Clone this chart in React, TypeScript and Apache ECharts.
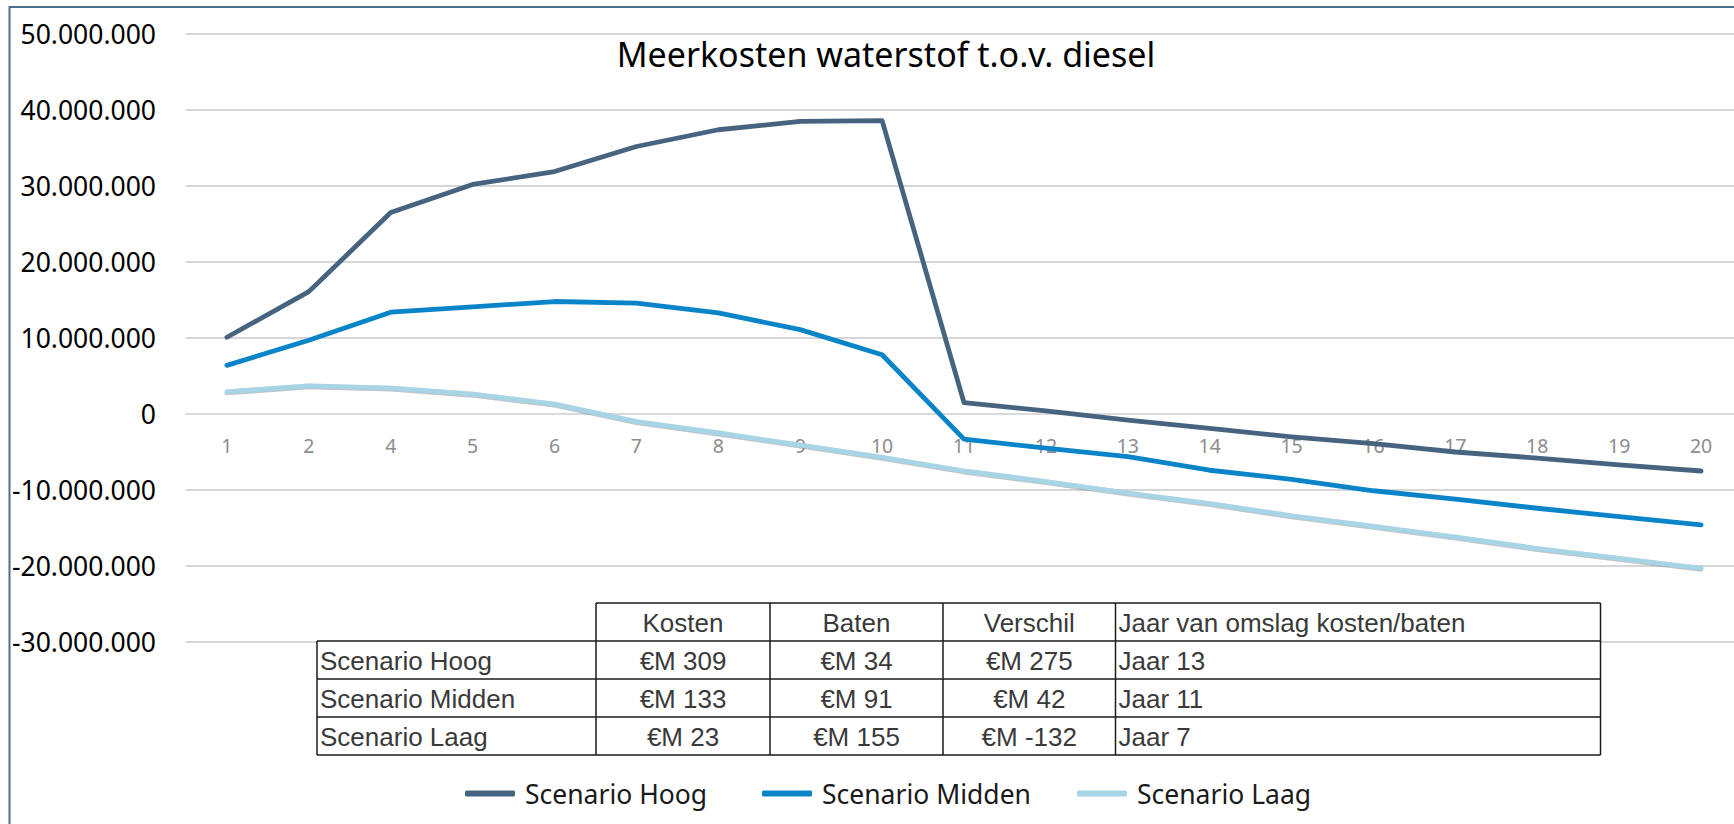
import React, { useEffect, useRef } from 'react';
import * as echarts from 'echarts';

const categories = ['1', '2', '4', '5', '6', '7', '8', '9', '10', '11', '12', '13', '14', '15', '16', '17', '18', '19', '20'];

const scenarioHoog = [10100000, 16100000, 26500000, 30200000, 31900000, 35200000, 37400000, 38500000, 38600000, 1500000, 400000, -800000, -1900000, -3000000, -3900000, -5000000, -5800000, -6700000, -7500000];
const scenarioMidden = [6400000, 9700000, 13400000, 14100000, 14800000, 14600000, 13300000, 11100000, 7800000, -3300000, -4500000, -5600000, -7400000, -8600000, -10100000, -11200000, -12400000, -13500000, -14600000];
const scenarioLaag = [2900000, 3700000, 3400000, 2600000, 1300000, -1000000, -2500000, -4100000, -5700000, -7500000, -8900000, -10400000, -11800000, -13400000, -14800000, -16200000, -17700000, -19000000, -20300000];

const seriesNames = ['Scenario Hoog', 'Scenario Midden', 'Scenario Laag'];

const tableHeader = ['Kosten', 'Baten', 'Verschil', 'Jaar van omslag kosten/baten'];
const tableRowLabels = ['Scenario Hoog', 'Scenario Midden', 'Scenario Laag'];
const tableKosten = ['€M 309', '€M 133', '€M 23'];
const tableBaten = ['€M 34', '€M 91', '€M 155'];
const tableVerschil = ['€M 275', '€M 42', '€M -132'];
const tableOmslag = ['Jaar 13', 'Jaar 11', 'Jaar 7'];

const TITLE = 'Meerkosten waterstof t.o.v. diesel';

const Y_MIN = -30000000;
const Y_MAX = 50000000;

function fmt(v: number): string {
  const neg = v < 0;
  const s = Math.abs(v).toFixed(0).replace(/\B(?=(\d{3})+(?!\d))/g, '.');
  return (neg ? '-' : '') + s;
}

function buildTable(): any[] {
  const colX = [317, 596, 770, 943, 1115.5, 1600.5];
  const rowY = [603, 641, 679, 717, 755];
  const els: any[] = [];
  const lineStyle = { stroke: '#1a1a1a', lineWidth: 1.5 };
  const font = '26px "Liberation Sans", Arial, sans-serif';
  const textColor = '#3a3a3a';
  els.push({ type: 'rect', shape: { x: colX[1], y: rowY[0], width: colX[5] - colX[1], height: rowY[1] - rowY[0] }, style: { fill: '#fff' }, z: 10 });
  els.push({ type: 'rect', shape: { x: colX[0], y: rowY[1], width: colX[5] - colX[0], height: rowY[4] - rowY[1] }, style: { fill: '#fff' }, z: 10 });
  els.push({ type: 'line', shape: { x1: colX[1], y1: rowY[0], x2: colX[5], y2: rowY[0] }, style: lineStyle, z: 11 });
  for (let r = 1; r < rowY.length; r++) {
    els.push({ type: 'line', shape: { x1: colX[0], y1: rowY[r], x2: colX[5], y2: rowY[r] }, style: lineStyle, z: 11 });
  }
  els.push({ type: 'line', shape: { x1: colX[0], y1: rowY[1], x2: colX[0], y2: rowY[4] }, style: lineStyle, z: 11 });
  for (let c = 1; c < colX.length; c++) {
    els.push({ type: 'line', shape: { x1: colX[c], y1: rowY[0], x2: colX[c], y2: rowY[4] }, style: lineStyle, z: 11 });
  }
  const cellText = (text: string, col: number, row: number, align: 'left' | 'center') => {
    const x = align === 'center' ? (colX[col] + colX[col + 1]) / 2 : colX[col] + 3;
    const y = (rowY[row] + rowY[row + 1]) / 2 + 1;
    els.push({ type: 'text', x, y, z: 12, style: { text, font, fill: textColor, align, verticalAlign: 'middle' } });
  };
  tableHeader.forEach((h, i) => cellText(h, i + 1, 0, i === 3 ? 'left' : 'center'));
  tableRowLabels.forEach((label, r) => {
    cellText(label, 0, r + 1, 'left');
    cellText(tableKosten[r], 1, r + 1, 'center');
    cellText(tableBaten[r], 2, r + 1, 'center');
    cellText(tableVerschil[r], 3, r + 1, 'center');
    cellText(tableOmslag[r], 4, r + 1, 'left');
  });
  return els;
}

export default function App() {
  const ref = useRef<HTMLDivElement>(null);

  useEffect(() => {
    document.body.style.margin = '0';
    if (!ref.current) return;
    const chart = echarts.init(ref.current, undefined, { renderer: 'svg' });
    const colors = ['#46647f', '#0a84c8', '#a8d5e6'];
    const datasets = [scenarioHoog, scenarioMidden, scenarioLaag];
    const legendLeft = [460, 757, 1072];
    const gridTop = 34;
    const gridHeight = 608;
    // move the category axis up to the zero line of the value axis
    const zeroOffset = -(gridHeight * (0 - Y_MIN)) / (Y_MAX - Y_MIN);

    const option: any = {
      animation: false,
      backgroundColor: '#ffffff',
      grid: { left: 186, top: gridTop, width: 1556, height: gridHeight, containLabel: false, outerBoundsMode: 'none' },
      xAxis: {
        type: 'category',
        data: categories,
        boundaryGap: true,
        position: 'bottom',
        offset: zeroOffset,
        axisLine: { onZero: false, lineStyle: { color: '#dadada', width: 2 } },
        axisTick: { show: false },
        axisLabel: { color: '#8c8c8c', fontSize: 19.5, fontFamily: '"Noto Sans", sans-serif', margin: 21 },
        splitLine: { show: false },
      },
      yAxis: {
        type: 'value',
        min: Y_MIN,
        max: Y_MAX,
        interval: 10000000,
        axisLine: { show: false },
        axisTick: { show: false },
        axisLabel: { formatter: fmt, color: '#000000', fontSize: 26.5, fontFamily: '"Noto Sans", sans-serif', margin: 30 },
        splitLine: { lineStyle: { color: '#c8c8c8', width: 1.5 } },
      },
      legend: seriesNames.map((n, i) => ({
        data: [n],
        left: legendLeft[i],
        top: 775,
        icon: 'roundRect',
        itemWidth: 50,
        itemHeight: 6,
        textStyle: { fontSize: 26.5, color: '#1a1a1a', fontFamily: '"Noto Sans", sans-serif', padding: [0, 0, 0, 5] },
        selectedMode: false,
      })),
      series: seriesNames.map((n, i) => ({
        name: n,
        type: 'line',
        data: datasets[i],
        symbol: 'none',
        z: 3 + i,
        itemStyle: { color: colors[i] },
        lineStyle: {
          color: colors[i],
          width: 4.8,
          cap: 'round',
          join: 'round',
          ...(i === 2 ? { shadowColor: 'rgba(90,90,90,0.6)', shadowBlur: 1.5, shadowOffsetY: 0.6 } : {}),
        },
      })),
      graphic: [
        { type: 'rect', shape: { x: 9.5, y: 7, width: 2000, height: 1200 }, style: { fill: 'none', stroke: '#4e6e8e', lineWidth: 2 }, z: 1 },
        { type: 'text', x: 886, y: 54, z: 5, style: { text: TITLE, font: '34px "Noto Sans", sans-serif', fill: '#000', align: 'center', verticalAlign: 'middle' } },
        ...buildTable(),
      ],
    };
    chart.setOption(option);
    return () => chart.dispose();
  }, []);

  return <div ref={ref} style={{ width: 1734, height: 824 }} />;
}
